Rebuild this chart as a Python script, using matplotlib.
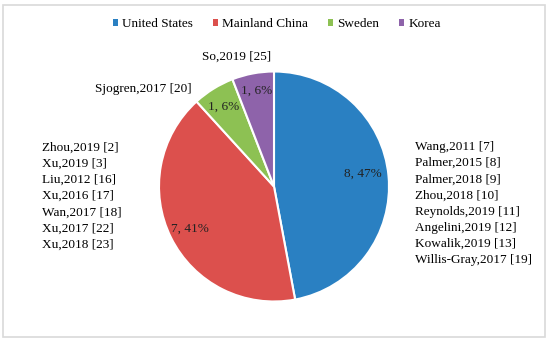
import matplotlib

matplotlib.use("Agg")
import matplotlib.pyplot as plt
from matplotlib.patches import Rectangle, Patch

plt.rcParams["font.family"] = ["Liberation Serif", "DejaVu Serif"]

countries = ["United States", "Mainland China", "Sweden", "Korea"]
counts = [8, 7, 1, 1]
percents = ["47%", "41%", "6%", "6%"]
colors = ["#2A80C2", "#DC504D", "#8DC153", "#8E63AA"]

us_studies = ["Wang,2011 [7]", "Palmer,2015 [8]", "Palmer,2018 [9]", "Zhou,2018 [10]",
              "Reynolds,2019 [11]", "Angelini,2019 [12]", "Kowalik,2019 [13]",
              "Willis-Gray,2017 [19]"]
china_studies = ["Zhou,2019 [2]", "Xu,2019 [3]", "Liu,2012 [16]", "Xu,2016 [17]",
                 "Wan,2017 [18]", "Xu,2017 [22]", "Xu,2018 [23]"]
sweden_studies = ["Sjogren,2017 [20]"]
korea_studies = ["So,2019 [25]"]

W, H = 550, 342
fig = plt.figure(figsize=(5.5, 3.42), dpi=100)
fig.patches.append(Rectangle((3 / W, 5 / H), 542 / W, 332 / H, transform=fig.transFigure,
                             fill=False, edgecolor="#D9D9D9", lw=1.2))

# pie centred near (274, 186) px, radius ~115 px
cx, cy, r = 274, 186.5, 115
ax = fig.add_axes([(cx - r) / W, (H - cy - r) / H, 2 * r / W, 2 * r / H])
labels = [f"{c}, {p}" for c, p in zip(counts, percents)]
wedges, texts = ax.pie(counts, colors=colors, startangle=90, counterclock=False,
                       wedgeprops=dict(edgecolor="white", linewidth=1.5),
                       labels=labels, labeldistance=0.62,
                       textprops=dict(fontsize=9.5, color="#222222"))
label_pos = [(0.77, 0.11), (-0.73, -0.37), (-0.44, 0.69), (-0.15, 0.83)]
for t, pos in zip(texts, label_pos):
    t.set_position(pos)
    t.set_ha("center")
    t.set_va("center")
ax.set_xlim(-1, 1)
ax.set_ylim(-1, 1)
ax.set_aspect("equal")

fs = 9.5
fig.text(415 / W, 1 - 145 / H, "\n".join(us_studies), fontsize=fs, va="center", ha="left",
         linespacing=1.46)
fig.text(42 / W, 1 - 146 / H, "\n".join(china_studies), fontsize=fs, va="center", ha="left",
         linespacing=1.46)
# va="center" on multi-line text centres the block; shift to first-line centre
for t, n, y0 in ((fig.texts[-2], len(us_studies), 145), (fig.texts[-1], len(china_studies), 146)):
    t.set_y(1 - (y0 + (n - 1) * 16.7 / 2) / H)
fig.text(192 / W, 1 - 89 / H, sweden_studies[0], fontsize=fs, va="center", ha="right")
fig.text(202 / W, 1 - 57 / H, korea_studies[0], fontsize=fs, va="center", ha="left")

handles = [Patch(facecolor=c, edgecolor="none") for c in colors]
fig.legend(handles, countries, loc="center", bbox_to_anchor=(277 / W, 1 - 24 / H), ncol=4,
           frameon=False, fontsize=fs, handlelength=0.4, handleheight=0.4,
           handletextpad=0.3, columnspacing=1.5)

fig.savefig("out.png", dpi=100)
